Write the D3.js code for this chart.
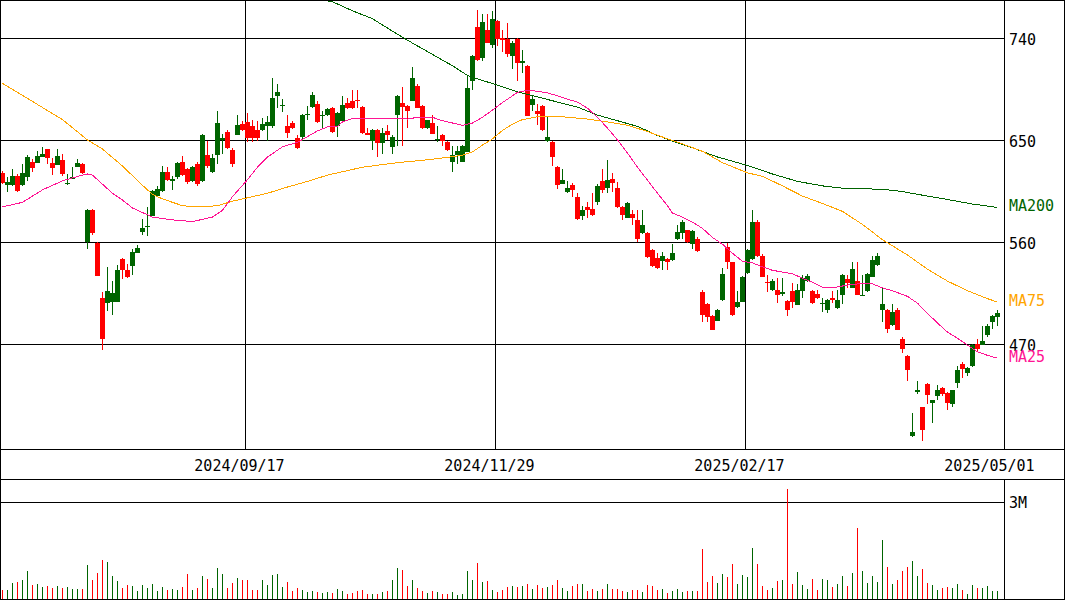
<!DOCTYPE html>
<html>
<head>
<meta charset="utf-8">
<script src="https://cdn.jsdelivr.net/npm/d3@7"></script>
<style>
  html, body { margin: 0; padding: 0; background: #fff; }
  svg { display: block; }
  text { font-family: "DejaVu Sans Mono", "Liberation Mono", monospace; font-size: 15px; }
</style>
</head>
<body>
<svg id="chart" width="1065" height="600"></svg>
<script>
// Daily OHLC (yen) and volume (thousand shares), oldest first
const openP = [621,610,610,618,610,617,631,630,635,642,630,628,632,611,616,626,629,560,588,559,
  511,506,507,507,545,535,539,550,569,573,583,601,605,622,614,617,631,624,614,629,
  614,637,622,637,650,657,641,654,664,666,662,659,659,662,662,689,680,662,665,652,
  653,672,679,682,671,672,678,662,667,683,684,685,679,656,649,659,647,658,644,672,
  683,680,684,698,680,661,665,650,654,648,631,637,631,639,702,750,722,747,734,755,
  740,739,724,739,718,715,681,676,680,649,648,626,611,604,610,600,583,591,589,595,
  614,608,616,608,591,581,585,579,568,568,553,546,543,545,544,563,568,571,558,563,
  516,505,495,490,509,556,542,503,507,533,545,578,548,525,518,518,514,508,517,504,
  517,526,517,514,505,500,511,502,513,527,519,526,512,517,529,540,500,500,487,500,
  474,459,389,428,414,435,418,424,431,427,417,436,452,444,451,470,469,478,489,494];
const highP = [623,617,624,620,629,637,633,640,644,642,634,642,638,620,626,633,630,589,589,560,
  516,538,526,540,546,541,554,557,580,591,606,609,627,626,618,631,636,625,627,631,
  655,649,638,676,655,659,643,672,667,674,668,667,669,671,705,699,686,672,667,654,
  673,680,692,684,676,678,679,675,689,687,694,694,680,661,660,660,661,663,654,690,
  697,681,714,699,681,668,672,662,655,649,645,645,646,707,725,765,761,761,764,756,
  747,753,737,740,729,716,690,682,681,670,649,627,624,614,612,603,592,595,603,611,
  624,632,621,613,592,595,588,588,588,569,554,550,551,546,558,575,579,571,571,564,
  518,506,496,501,537,559,542,517,530,554,588,579,549,531,527,528,528,509,524,523,
  531,532,518,518,511,510,517,518,532,531,542,542,531,533,548,550,519,501,505,502,
  476,460,409,437,414,436,421,434,432,428,429,451,454,450,470,474,486,488,496,500];
const lowP = [611,604,609,604,609,614,622,630,635,629,619,628,618,610,616,626,620,554,566,530,
  465,499,496,507,527,528,531,550,566,565,583,600,604,614,606,616,618,611,613,609,
  613,625,621,629,638,642,626,654,658,648,648,649,658,649,661,678,675,652,660,642,
  649,668,678,665,661,671,656,653,666,677,677,678,655,654,641,635,638,650,638,645,
  645,661,684,678,660,660,655,648,645,640,622,629,631,639,694,720,720,736,731,733,
  728,723,713,702,709,671,676,663,658,648,627,607,611,603,600,579,579,581,583,593,
  603,603,604,590,579,581,575,560,567,546,538,536,535,535,543,562,563,559,554,551,
  489,489,482,490,508,536,495,502,507,532,544,547,529,516,517,506,512,495,502,504,
  511,525,505,510,498,497,506,501,505,519,519,513,512,516,529,539,489,480,486,482,
  462,437,388,426,384,417,400,421,424,412,414,431,440,442,450,463,469,476,483,486];
const closeP = [612,613,618,605,621,635,625,636,638,634,625,636,620,612,617,630,621,588,568,530,
  474,517,515,535,535,529,551,555,572,574,605,607,622,615,616,630,619,613,626,611,
  654,627,634,665,652,643,629,663,659,652,652,652,664,666,687,692,681,656,661,643,
  672,673,690,666,672,677,657,674,681,678,678,684,656,654,659,647,656,654,653,689,
  679,676,705,678,661,668,655,651,649,641,637,640,645,696,724,721,754,736,757,739,
  738,726,736,718,720,671,686,673,659,653,635,610,615,608,606,580,588,588,584,609,
  606,615,612,591,584,594,581,563,575,547,539,537,548,542,550,569,578,560,570,552,
  496,494,482,500,532,542,496,507,529,553,578,548,529,524,526,513,516,500,507,518,
  528,530,506,511,506,509,509,509,531,524,536,513,513,532,544,548,505,483,498,482,
  466,447,392,429,394,425,421,429,426,418,429,447,448,449,469,466,473,486,495,497];
const volume = [290,290,500,540,600,870,440,470,380,410,350,410,350,380,320,320,320,1060,600,810,
  1210,1150,720,570,350,440,410,260,440,350,470,260,380,290,320,290,380,780,290,350,
  720,630,350,960,780,350,500,660,600,600,290,290,600,440,750,780,380,540,260,350,
  290,230,260,230,200,230,200,320,260,170,200,260,290,170,170,170,230,260,600,960,
  900,410,600,350,260,200,260,230,170,170,230,140,170,870,600,1120,540,570,290,230,
  290,380,410,380,410,470,320,440,350,380,440,600,350,260,410,470,470,260,320,260,
  320,470,320,320,260,230,290,290,230,440,410,290,320,200,260,320,230,260,260,260,
  1550,540,720,500,780,690,1090,470,750,690,1580,1090,410,290,350,570,600,3380,470,840,
  440,320,630,290,630,600,380,470,720,410,810,2190,870,500,720,540,1820,1000,470,600,
  870,1000,1180,720,930,500,440,290,350,380,350,470,290,170,440,350,350,410,260,260];

// Moving averages as [day index, yen]
const ma25 = [[0,591],[4,595],[8,606],[12,614],[16,619],[17,620],[18,619],[20,611],[22,603],[24,597],
  [26,590],[28,586],[30,582],[34,579.5],[38,578],[42,582],[44,588],[46,600],[49,615],[51,626],
  [53,635],[56,644],[59,648],[61,653],[63,658],[65,661.5],[67,662],[68,666],[70,669],[78,669],
  [81,668.5],[83,670],[86,670],[88,667],[90,665],[92,663],[94,665],[96,670],[98,676.5],[100,683],
  [103,692],[105,694],[107,693],[109,691.5],[111,689],[113,686],[115,683.5],[117,678],[119,670],[121,660.5],
  [123,650],[125,638.5],[127,626],[129,614.5],[131,603],[133,592],[134,585.5],[136,582],[138,577.5],[140,572],
  [142,564],[144,558],[146,550],[148,543],[150,541.5],[152,538],[154,535],[156,533.5],[158,532],[160,528],
  [162,524.5],[164,520],[166,519.5],[169,522],[171,523],[174,523],[176,519.5],[178,517],[181,512],[183,506],
  [185,497],[187,488.5],[189,480.5],[191,475],[193,469],[195,463],[197,460],[199,457.5]];
const ma75 = [[0,700],[6,684],[12,668],[17,650],[20,642],[24,627],[28,610],[30,602],[32,598],[34,595],
  [36,592],[39,591],[43,592],[46,596],[49,599],[53,603],[57,608.5],[61,613.5],[65,619],[67,621],
  [72,626],[79,630],[86,633],[92,636.5],[94,639.5],[96,645.5],[98,651],[100,658.5],[102,664],[104,668],
  [107,670.5],[112,670.5],[117,668.5],[121,666],[125,663],[129,657.5],[133,651],[136,646.5],[140,640],[144,630],
  [149,621],[152,618],[156,609.5],[160,600.5],[164,594],[168,587],[172,575.5],[176,562],[181,548.5],[185,536],
  [189,525.5],[193,517],[197,510],[199,507]];
const ma200 = [[63,774],[66,772],[70,764],[74,757],[78,746],[82,735.5],[86,725.5],[90,715.5],[93,707],[96,702.5],
  [99,698.5],[103,692.5],[107,688],[111,683.5],[115,679],[119,672],[123,667],[127,662],[131,654],[135,647.5],
  [139,641.5],[143,635],[149,627.5],[154,620],[159,613.5],[164,609.5],[168,607.5],[172,607],[176,606.5],[180,604.5],
  [185,600.5],[189,597.5],[194,593.5],[199,590.5]];

const priceTicks = [470, 560, 650, 740];
const volumeTicks = [3000];
const dateTickIdx = [49, 99, 149, 199];
const dateTickLabels = ["2024/09/17", "2024/11/29", "2025/02/17", "2025/05/01"];
const maSeries = [
  { name: "MA200", data: ma200, color: "#006400" },
  { name: "MA75",  data: ma75,  color: "#ffa500" },
  { name: "MA25",  data: ma25,  color: "#ff1493" }
];

const UP = "#006400", DOWN = "#ff0000";
const W = 1065, H = 600;
const panelRight = 1004;   // left edge of the label column
const priceBottom = 449, volTop = 479, volBottom = 599;

const svg = d3.select("#chart");

const x = d3.scaleBand().domain(d3.range(openP.length)).range([0, 1000]);
const y = d3.scaleLinear().domain([377.35, 773.53]).range([priceBottom, 0]);
const yv = d3.scaleLinear().domain([0, 3000]).range([599.5, 501.5]);

const candles = d3.range(openP.length).map(i => ({
  i, o: openP[i], h: highP[i], l: lowP[i], c: closeP[i], v: volume[i]
}));
const colorOf = d => (d.c >= d.o ? UP : DOWN);

svg.append("rect").attr("width", W).attr("height", H).attr("fill", "#fff");

const defs = svg.append("defs");
defs.append("clipPath").attr("id", "priceClip")
  .append("rect").attr("x", 0).attr("y", 0).attr("width", panelRight).attr("height", priceBottom);

// ---- price panel grid ----
const grid = svg.append("g").attr("stroke", "#000").attr("stroke-width", 1).attr("shape-rendering", "crispEdges");
grid.selectAll("line.h").data(priceTicks).join("line")
  .attr("x1", 0).attr("x2", panelRight)
  .attr("y1", d => Math.round(y(d)) + 0.5).attr("y2", d => Math.round(y(d)) + 0.5);
grid.selectAll("line.v").data(dateTickIdx.filter(i => x(i) < panelRight - 10)).join("line")
  .attr("x1", d => x(d) + 0.5).attr("x2", d => x(d) + 0.5)
  .attr("y1", 0).attr("y2", priceBottom);
// volume reference line
grid.selectAll("line.vol").data(volumeTicks).join("line")
  .attr("x1", 0).attr("x2", panelRight)
  .attr("y1", d => Math.round(yv(d)) + 0.5).attr("y2", d => Math.round(yv(d)) + 0.5);

// ---- candlesticks ----
const price = svg.append("g").attr("clip-path", "url(#priceClip)").attr("shape-rendering", "crispEdges");
price.selectAll("rect.wick").data(candles).join("rect")
  .attr("class", "wick")
  .attr("x", d => x(d.i) + 2).attr("width", 1)
  .attr("y", d => Math.round(y(d.h)))
  .attr("height", d => Math.max(1, Math.round(y(d.l)) - Math.round(y(d.h))))
  .attr("fill", colorOf);
price.selectAll("rect.body").data(candles).join("rect")
  .attr("class", "body")
  .attr("x", d => x(d.i)).attr("width", x.bandwidth())
  .attr("y", d => Math.round(y(Math.max(d.o, d.c))))
  .attr("height", d => Math.max(1, Math.round(y(Math.min(d.o, d.c))) - Math.round(y(Math.max(d.o, d.c)))))
  .attr("fill", colorOf);

// ---- moving averages ----
const maLine = d3.line().x(d => x(d[0]) + 2.5).y(d => y(d[1]));
const maG = svg.append("g").attr("clip-path", "url(#priceClip)");
maG.selectAll("path").data(maSeries).join("path")
  .attr("d", s => maLine(s.data))
  .attr("fill", "none").attr("stroke", s => s.color).attr("stroke-width", 1)
  .attr("shape-rendering", "crispEdges");

// ---- volume bars ----
svg.append("g").attr("shape-rendering", "crispEdges")
  .selectAll("rect").data(candles).join("rect")
  .attr("x", d => x(d.i) + 2).attr("width", 1)
  .attr("y", d => Math.round(yv(d.v)))
  .attr("height", d => volBottom - Math.round(yv(d.v)))
  .attr("fill", colorOf);

// ---- axes ----
const styleAxis = g => {
  g.attr("font-family", null).attr("font-size", null);
  g.select(".domain").remove();
  g.selectAll(".tick line").remove();
  g.selectAll("text").attr("fill", "#000");
};

svg.append("g")
  .attr("transform", `translate(${panelRight},0)`)
  .call(d3.axisRight(y).tickValues(priceTicks).tickSize(0).tickPadding(5).tickFormat(d3.format("d")))
  .call(styleAxis)
  .selectAll("text").attr("dy", "0.41em");

svg.append("g")
  .attr("transform", `translate(${panelRight},0)`)
  .call(d3.axisRight(yv).tickValues(volumeTicks).tickSize(0).tickPadding(5).tickFormat(() => "3M"))
  .call(styleAxis)
  .selectAll("text").attr("dy", "0.41em");

svg.append("g")
  .attr("transform", `translate(-8,${priceBottom})`)
  .call(d3.axisBottom(x).tickValues(dateTickIdx).tickSize(0)
    .tickFormat(i => dateTickLabels[dateTickIdx.indexOf(i)]))
  .call(styleAxis)
  .selectAll("text").attr("y", 22).attr("dy", 0);

// moving-average labels at each line's last value
svg.append("g").selectAll("text").data(maSeries).join("text")
  .attr("x", panelRight + 5)
  .attr("y", s => y(s.data[s.data.length - 1][1]))
  .attr("dy", "0.27em")
  .attr("fill", s => s.color)
  .text(s => s.name);

// ---- frame ----
const frame = svg.append("g").attr("stroke", "#000").attr("stroke-width", 1).attr("fill", "none")
  .attr("shape-rendering", "crispEdges");
frame.append("rect").attr("x", 0.5).attr("y", 0.5).attr("width", W - 1).attr("height", H - 1);
frame.append("line").attr("x1", 0).attr("x2", W).attr("y1", priceBottom + 0.5).attr("y2", priceBottom + 0.5);
frame.append("line").attr("x1", 0).attr("x2", W).attr("y1", volTop + 0.5).attr("y2", volTop + 0.5);
frame.append("line").attr("x1", panelRight + 0.5).attr("x2", panelRight + 0.5).attr("y1", 0).attr("y2", priceBottom);
frame.append("line").attr("x1", panelRight + 0.5).attr("x2", panelRight + 0.5).attr("y1", volTop).attr("y2", H);
</script>
</body>
</html>
